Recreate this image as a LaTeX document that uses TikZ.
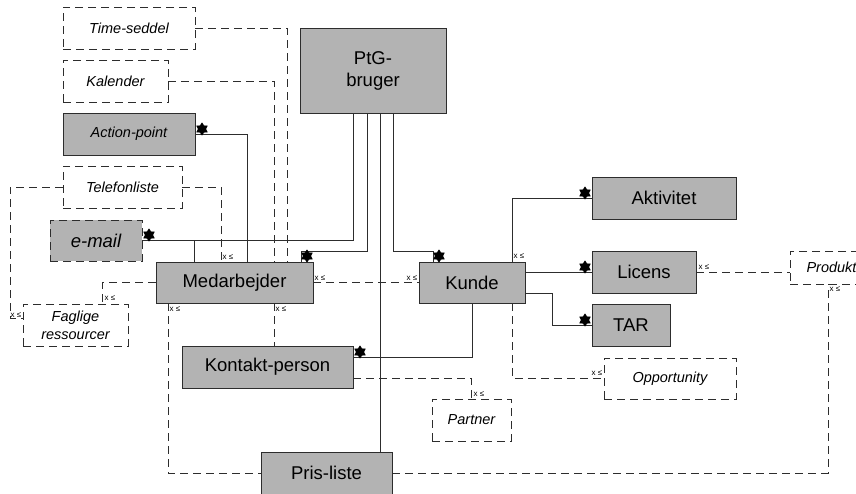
\documentclass[tikz,border=0pt]{standalone}
\usepackage{fontspec}
\setmainfont{Liberation Sans}
\usetikzlibrary{shapes.geometric}
\definecolor{boxgray}{RGB}{179,179,179}
\definecolor{edge}{RGB}{45,45,45}

\begin{document}
\begin{tikzpicture}[x=1pt,y=-1pt,
  ent/.style={draw=edge, line width=0.9pt, fill=boxgray, inner sep=0pt,
    align=center, font=\fontsize{18.5}{22}\selectfont},
  aux/.style={draw=edge, line width=0.9pt, dash pattern=on 8pt off 5pt,
    fill=white, inner sep=0pt, align=center,
    font=\fontsize{14.5}{18}\selectfont\itshape},
  apbox/.style={ent, font=\fontsize{14.5}{18}\selectfont\itshape},
  mailbox/.style={ent, dash pattern=on 8pt off 5pt,
    font=\fontsize{18.5}{22}\selectfont\itshape},
  rel/.style={draw=edge, line width=0.9pt},
  opt/.style={draw=edge, line width=0.9pt, dash pattern=on 8pt off 5pt},
  many/.style={shape=star, star points=6, star point ratio=1.6, fill=black,
    draw=black, line width=0.6pt, inner sep=0pt, minimum size=12pt},
  zo/.style={inner sep=0pt, font=\fontsize{8}{8}\selectfont}
]
\useasboundingbox (0,0) rectangle (856,493);

% entities
\node[ent, minimum width=146pt, minimum height=85pt] (ptg) at (373,70.5) {PtG-\\bruger};
\node[aux, minimum width=132pt, minimum height=42pt] (ts)  at (129,28)  {Time-seddel};
\node[aux, minimum width=105pt, minimum height=42pt] (kal) at (115.5,81) {Kalender};
\node[apbox, minimum width=132pt, minimum height=42pt] (ap) at (129,134) {Action-point};
\node[aux, minimum width=119pt, minimum height=42pt] (tel) at (122.5,187) {Telefonliste};
\node[mailbox, minimum width=92pt, minimum height=41pt] (email) at (96,240.5) {e-mail};
\node[ent, minimum width=157pt, minimum height=41pt] (med) at (234.5,282.5) {Medarbejder};
\node[ent, minimum width=106pt, minimum height=41pt] (kunde) at (472,282.5) {Kunde};
\node[aux, minimum width=105pt, minimum height=42pt] (fag) at (75.5,325) {Faglige\\ressourcer};
\node[ent, minimum width=171pt, minimum height=42pt] (kp) at (267.5,367) {Kontakt-person};
\node[aux, minimum width=79pt, minimum height=42pt] (partner) at (471.5,420) {Partner};
\node[aux, minimum width=132pt, minimum height=41pt] (opp) at (670,378.5) {Opportunity};
\node[ent, minimum width=144pt, minimum height=42pt] (akt) at (664,198) {Aktivitet};
\node[ent, minimum width=104pt, minimum height=42pt] (lic) at (644,272) {Licens};
\node[ent, minimum width=78pt, minimum height=42pt] (tar) at (631,325) {TAR};
\node[aux, minimum width=83pt, minimum height=33pt] (prod) at (831.5,267.5) {Produkt};
\node[ent, minimum width=131pt, minimum height=42pt] (pris) at (326.5,473) {Pris-liste};

% solid relations
\draw[rel] (ptg.south -| 353,0) |- (email.east);
\draw[rel] (email.east) -| (med.north -| 194,0);
\draw[rel] (ptg.south -| 367,0) -- (367,251) -| (med.north -| 301,0);
\draw[rel] (ptg.south -| 380,0) -- (pris.north -| 380,0);
\draw[rel] (ptg.south -| 393,0) -- (393,251) -| (kunde.north -| 433,0);
\draw[rel] (ap.east) -| (med.north -| 247,0);
\draw[rel] (kunde.north -| 512,0) |- (akt.west);
\draw[rel] (lic.west -| kunde.east) -- (lic.west);
\draw[rel] (kunde.east |- 0,293) -- (552,293) |- (tar.west);
\draw[rel] (kunde.south) |- (kp.east |- 0,357);

% optional relations
\draw[opt] (kal.east) -| (med.north -| 274,0);
\draw[opt] (ts.east) -| (med.north -| 287,0);
\draw[opt] (tel.east) -| (med.north -| 221,0);
\draw[opt] (tel.west) -- (10,187) |- (fag.west |- 0,318);
\draw[opt] (med.west) -| (fag.north -| 102,0);
\draw[opt] (med.east) -- (kunde.west);
\draw[opt] (med.south -| 274,0) -- (kp.north -| 274,0);
\draw[opt] (med.south -| 168,0) |- (pris.west);
\draw[opt] (kunde.south -| 512,0) |- (opp.west);
\draw[opt] (kp.east |- 0,378) -| (partner.north);
\draw[opt] (lic.east) -- (prod.west |- lic.east);
\draw[opt] (pris.east) -| (prod.south -| 828,0);

% many-end markers
\node[many] (m-ap)    at (202,129) {};
\node[many] (m-email) at (149,235) {};
\node[many] (m-med)   at (307,256) {};
\node[many] (m-kunde) at (439,256) {};
\node[many] (m-akt)   at (585,193) {};
\node[many] (m-lic)   at (585,267) {};
\node[many] (m-tar)   at (585,320) {};
\node[many] (m-kp)    at (360,352) {};

% zero-or-one markers
\node[zo] (z-tel)   at (228,257) {x ≤};
\node[zo] (z-fag1)  at (110,298) {x ≤};
\node[zo] (z-fag2)  at (16,315)  {x ≤};
\node[zo] (z-medb1) at (175,309) {x ≤};
\node[zo] (z-medb2) at (281,309) {x ≤};
\node[zo] (z-medr)  at (320,278) {x ≤};
\node[zo] (z-kl)    at (412,278) {x ≤};
\node[zo] (z-kt)    at (519,256) {x ≤};
\node[zo] (z-lic)   at (704,267) {x ≤};
\node[zo] (z-prod)  at (835,289) {x ≤};
\node[zo] (z-opp)   at (597,373) {x ≤};
\node[zo] (z-part)  at (479,394) {x ≤};
\end{tikzpicture}
\end{document}
